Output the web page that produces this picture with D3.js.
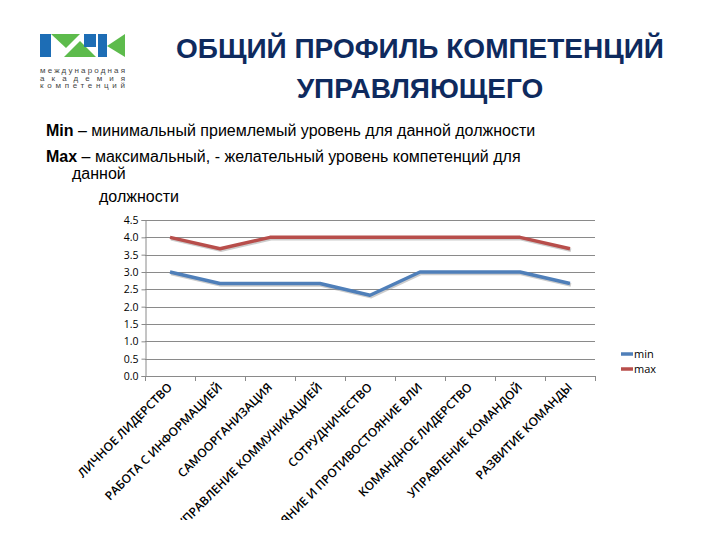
<!DOCTYPE html>
<html>
<head>
<meta charset="utf-8">
<script src="https://cdn.jsdelivr.net/npm/d3@7"></script>
<style>
  body { margin: 0; background: #fff; }
  svg { display: block; }
</style>
</head>
<body>
<svg id="chart" width="720" height="540"></svg>
<script>
var categories = [
  "ЛИЧНОЕ ЛИДЕРСТВО",
  "РАБОТА С ИНФОРМАЦИЕЙ",
  "САМООРГАНИЗАЦИЯ",
  "УПРАВЛЕНИЕ КОММУНИКАЦИЕЙ",
  "СОТРУДНИЧЕСТВО",
  "ВЛИЯНИЕ И ПРОТИВОСТОЯНИЕ ВЛИ",
  "КОМАНДНОЕ ЛИДЕРСТВО",
  "УПРАВЛЕНИЕ КОМАНДОЙ",
  "РАЗВИТИЕ КОМАНДЫ"
];
var minValues = [3, 2.67, 2.67, 2.67, 2.33, 3, 3, 3, 2.67];
var maxValues = [4, 3.67, 4, 4, 4, 4, 4, 4, 3.67];
var yTicks = [0, 0.5, 1, 1.5, 2, 2.5, 3, 3.5, 4, 4.5];
var seriesNames = ["min", "max"];
var colors = ["#4f7fb9", "#b84e4b"];

var svg = d3.select("#chart");

// logo
var logo = svg.append("g");
logo.append("rect").attr("x", 40).attr("y", 34).attr("width", 11).attr("height", 23).attr("fill", "#1d6db5");
logo.append("path").attr("d", "M51,34 L80,34 L66,48 Z").attr("fill", "#5dbb4c");
logo.append("path").attr("d", "M64,57 L80,41 L96,57 Z").attr("fill", "#5dbb4c");
logo.append("rect").attr("x", 84).attr("y", 34).attr("width", 12).attr("height", 13).attr("fill", "#1d6db5");
logo.append("rect").attr("x", 98).attr("y", 34).attr("width", 9).attr("height", 23).attr("fill", "#1d6db5");
logo.append("path").attr("d", "M107,46 L125,34 L125,57 Z").attr("fill", "#5dbb4c");
["международная", "академия", "компетенций"].forEach(function(t, i) {
  logo.append("text")
    .attr("x", 40).attr("y", 73 + i * 7.5)
    .attr("textLength", 85).attr("lengthAdjust", "spacing")
    .style("font-family", "Liberation Sans, Arial, sans-serif")
    .style("font-size", "8px")
    .attr("fill", "#444")
    .text(t);
});

// title
var title = svg.append("text")
  .attr("text-anchor", "middle")
  .style("font-family", "Liberation Sans, Arial, sans-serif")
  .style("font-size", "28px")
  .style("font-weight", "bold")
  .attr("fill", "#0e2a5e");
title.append("tspan").attr("x", 420).attr("y", 58).text("ОБЩИЙ ПРОФИЛЬ КОМПЕТЕНЦИЙ");
title.append("tspan").attr("x", 420).attr("y", 98).text("УПРАВЛЯЮЩЕГО");

// description
var desc = svg.append("g")
  .style("font-family", "Liberation Sans, Arial, sans-serif")
  .style("font-size", "16px")
  .attr("fill", "#000");
var d1 = desc.append("text").attr("x", 46).attr("y", 136);
d1.append("tspan").style("font-weight", "bold").text("Min");
d1.append("tspan").text(" – минимальный приемлемый уровень для данной должности");
var d2 = desc.append("text").attr("x", 46).attr("y", 162);
d2.append("tspan").style("font-weight", "bold").text("Max");
d2.append("tspan").text(" – максимальный, - желательный уровень компетенций для");
desc.append("text").attr("x", 72).attr("y", 179).text("данной");
desc.append("text").attr("x", 99).attr("y", 202).text("должности");

// chart
var plotLeft = 145, plotRight = 595, plotTop = 220, plotBottom = 376;

var x = d3.scaleBand().domain(categories).range([plotLeft, plotRight]);
var y = d3.scaleLinear().domain([0, 4.5]).range([plotBottom, plotTop]);

svg.append("g")
  .selectAll("line")
  .data(yTicks)
  .join("line")
  .attr("x1", plotLeft).attr("x2", plotRight)
  .attr("y1", function(d) { return Math.round(y(d)) + 0.5; })
  .attr("y2", function(d) { return Math.round(y(d)) + 0.5; })
  .attr("stroke", "#8a8a8a")
  .attr("stroke-width", 1);

var yAxis = svg.append("g")
  .attr("transform", "translate(" + (plotLeft + 0.5) + ",0)")
  .call(d3.axisLeft(y).tickValues(yTicks).tickFormat(d3.format(".1f")).tickSize(4));
yAxis.select(".domain").attr("stroke", "#8a8a8a");
yAxis.selectAll(".tick line").attr("stroke", "#8a8a8a");
yAxis.selectAll("text")
  .style("font-family", "Open Sans, sans-serif")
  .style("font-size", "10.5px")
  .attr("fill", "#000");

// x axis with boundary ticks
var bounds = categories.map(function(c) { return x(c); }).concat([plotRight]);
svg.append("g")
  .selectAll("line")
  .data(bounds)
  .join("line")
  .attr("x1", function(d) { return Math.round(d) + 0.5; })
  .attr("x2", function(d) { return Math.round(d) + 0.5; })
  .attr("y1", plotBottom).attr("y2", plotBottom + 5)
  .attr("stroke", "#8a8a8a");

// category labels, clipped like the original
svg.append("clipPath").attr("id", "labclip")
  .append("rect").attr("x", 0).attr("y", plotBottom).attr("width", 720).attr("height", 144);

svg.append("g")
  .attr("clip-path", "url(#labclip)")
  .selectAll("text")
  .data(categories)
  .join("text")
  .attr("transform", function(d) {
    return "translate(" + (x(d) + x.bandwidth() / 2 + 3) + "," + (plotBottom + 12) + ") rotate(-45)";
  })
  .attr("text-anchor", "end")
  .style("font-family", "Open Sans, sans-serif")
  .style("font-size", "12px")
  .style("font-weight", "600")
  .attr("fill", "#000")
  .text(function(d) { return d; });

// lines
var line = d3.line()
  .x(function(d, i) { return x(categories[i]) + x.bandwidth() / 2; })
  .y(function(d) { return y(d); });

[minValues, maxValues].forEach(function(vals, j) {
  svg.append("path")
    .attr("d", line(vals))
    .attr("transform", "translate(1,1.5)")
    .attr("fill", "none")
    .attr("stroke", "#999")
    .attr("stroke-opacity", 0.5)
    .attr("stroke-width", 3.5);
  svg.append("path")
    .attr("d", line(vals))
    .attr("fill", "none")
    .attr("stroke", colors[j])
    .attr("stroke-width", 3.5)
    .attr("stroke-linejoin", "round");
});

// legend
var legend = svg.append("g");
seriesNames.forEach(function(name, i) {
  var ly = 354 + i * 15;
  legend.append("line")
    .attr("x1", 621).attr("x2", 633)
    .attr("y1", ly).attr("y2", ly)
    .attr("stroke", colors[i]).attr("stroke-width", 3.5);
  legend.append("text")
    .attr("x", 634).attr("y", ly + 4)
    .style("font-family", "Open Sans, sans-serif")
    .style("font-size", "11px")
    .attr("fill", "#000")
    .text(name);
});
</script>
</body>
</html>
